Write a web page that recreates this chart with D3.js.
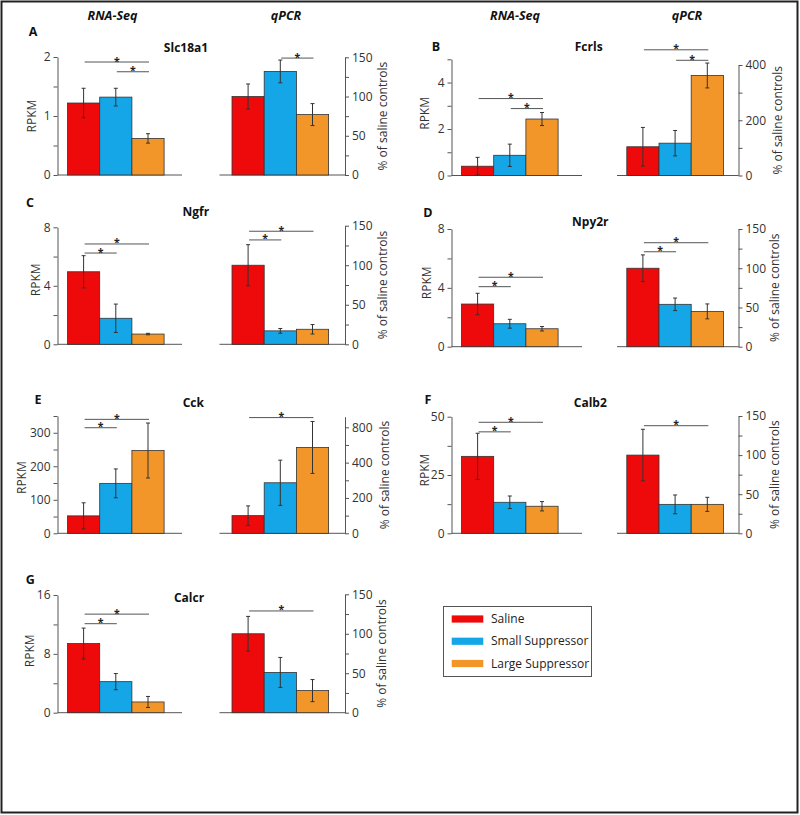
<!DOCTYPE html>
<html><head><meta charset="utf-8">
<script src="https://cdn.jsdelivr.net/npm/d3@7"></script>
<style>
body{margin:0;background:#fff;}
text{font-family:"Open Sans","Noto Sans",sans-serif;}
</style></head><body>
<svg id="c" width="800" height="815"></svg>
<script>
// ---------- DATA ----------
const groups = ["Saline", "Small Suppressor", "Large Suppressor"];
const colors = ["#ee0a0a", "#14a6e6", "#f3962a"];
const genes = ["Slc18a1", "Fcrls", "Ngfr", "Npy2r", "Cck", "Calb2", "Calcr"];
const panelLetters = ["A", "B", "C", "D", "E", "F", "G"];
const methodTitles = ["RNA-Seq", "qPCR"];

const rnaMean = [[1.22,1.32,0.62],[0.40,0.87,2.43],[4.96,1.78,0.70],[2.90,1.56,1.22],[52,149,247],[33,13.3,11.6],[9.4,4.22,1.46]];
const rnaErr  = [[0.25,0.15,0.08],[0.38,0.48,0.28],[1.10,0.97,0.05],[0.73,0.30,0.15],[39,43,82],[9.9,2.7,2.0],[2.1,1.1,0.75]];
const qpcrMean = [[100,132,77],[104,117,362],[100,17,19],[100,54,45],[100,286,486],[100,37,37],[100,51,28]];
const qpcrErr  = [[16,14.5,14],[70,46,45],[26,3,6],[17,8,9.5],[55,128,147],[33,12,9],[22,19,14]];

const rnaMax = [2, 5, 8, 8, 350, 50, 16];
const rnaMinorStep = [0.5, 1, 2, 2, 50, 12.5, 4];
const rnaTickValues = [[0,1,2],[0,2,4],[0,4,8],[0,4,8],[0,100,200,300],[0,25,50],[0,8,16]];
const rnaTickLabels = [["0","1","2"],["0","2","4"],["0","4","8"],["0","4","8"],["0","100","200","300"],["0","25","50"],["0","8","16"]];

const qpcrMax = [150, 400, 150, 150, 660, 150, 150];
const qpcrMinorStep = [25, 100, 25, 25, 100, 25, 25];
const qpcrTickValues = [[0,50,100,150],[0,200,400],[0,50,100,150],[0,50,100,150],[0,200,400,600],[0,50,100,150],[0,50,100,150]];
const qpcrTickLabels = [["0","50","100","150"],["0","200","400"],["0","50","100","150"],["0","50","100","150"],["0","200","400","800"],["0","50","100","150"],["0","50","100","150"]];

// significance brackets: [fromGroup, toGroup, level (data units)]
const rnaSig = [[[0,2,1.915],[1,2,1.75]], [[0,2,3.31],[1,2,2.88]], [[0,2,6.86],[0,1,6.24]], [[0,2,4.72],[0,1,4.08]], [[0,2,340],[0,1,315]], [[0,2,47.6],[0,1,43.5]], [[0,2,13.4],[0,1,12.1]]];
const qpcrSig = [[[1,2,149]], [[0,2,455],[1,2,417]], [[0,2,143],[0,1,132]], [[0,2,132.5],[0,1,121]], [[0,2,655]], [[0,2,137.6]], [[0,2,128.9]]];

const yLabelLeft = "RPKM";
const yLabelRight = "% of saline controls";

// ---------- LAYOUT ----------
const cols = [
  {rnaAxis:57.5, rnaBar0:67.5, rnaEnd:182, qStart:219.5, qBar0:232, qAxis:345, titleRna:112.5, titleQ:286},
  {rnaAxis:451.5, rnaBar0:461.5, rnaEnd:582, qStart:617, qBar0:626.8, qAxis:738.5, titleRna:515, titleQ:687}
];
const barW = 32.2;
const layout = [
  {col:0, y0:175,   rnaTop:57,    qTop:57.3,  letter:[33,36],    gene:[186,51.7],  rpkmX:32,    pctX:383, midShift:0},
  {col:1, y0:175.5, rnaTop:59.3,  qTop:65,    letter:[436,50.5], gene:[588.7,50.5],rpkmX:425,   pctX:778, midShift:-4},
  {col:0, y0:344.3, rnaTop:227.3, qTop:225.7, letter:[30,206.5], gene:[195.8,216], rpkmX:35.5,  pctX:383, midShift:-6},
  {col:1, y0:346.7, rnaTop:229,   qTop:229,   letter:[428,216.7],gene:[590.3,226], rpkmX:426.7, pctX:775, midShift:-5},
  {col:0, y0:533.3, rnaTop:416,   qTop:416.7, letter:[38,404.3], gene:[193.3,407], rpkmX:22,    pctX:385, midShift:3},
  {col:1, y0:533.3, rnaTop:416.7, qTop:416,   letter:[428,404.3],gene:[590.3,407], rpkmX:424.5, pctX:775, midShift:-5},
  {col:0, y0:712.7, rnaTop:595,   qTop:594.3, letter:[30.3,584], gene:[189,601.7], rpkmX:29.5,  pctX:381.7, midShift:-3}
];

const svg = d3.select("#c");
svg.append("rect").attr("x",1.5).attr("y",1.5).attr("width",796).attr("height",811)
  .attr("fill","none").attr("stroke","#222").attr("stroke-width",2);

// column titles
cols.forEach(c => {
  [[c.titleRna, methodTitles[0]], [c.titleQ, methodTitles[1]]].forEach(([x,t]) => {
    svg.append("text").attr("x",x).attr("y",20).attr("text-anchor","middle")
      .attr("font-size",12.5).attr("font-weight","bold").attr("font-style","italic").attr("fill","#111").text(t);
  });
});

function drawChart(o) {
  const g = svg.append("g");
  const y = d3.scaleLinear().domain([0, o.max]).range([o.y0, o.yTop]);
  const x = d3.scaleBand().domain(groups).range([o.bar0, o.bar0 + 3*barW]).padding(0);
  // baseline
  g.append("line").attr("x1",o.baseA).attr("x2",o.baseB).attr("y1",y(0)).attr("y2",y(0))
    .attr("stroke","#555").attr("stroke-width",1);
  // bars
  g.selectAll("rect.bar").data(o.mean).join("rect").attr("class","bar")
    .attr("x",(d,i)=>x(groups[i])).attr("width",x.bandwidth())
    .attr("y",d=>y(d)).attr("height",d=>y(0)-y(d))
    .attr("fill",(d,i)=>colors[i]).attr("stroke","#333").attr("stroke-width",0.8);
  // error bars
  o.mean.forEach((m,i) => {
    const cx = x(groups[i]) + x.bandwidth()/2;
    const lo = y(Math.max(0, m - o.err[i])), hi = y(m + o.err[i]);
    g.append("line").attr("x1",cx).attr("x2",cx).attr("y1",lo).attr("y2",hi).attr("stroke","#333").attr("stroke-width",1);
    [lo,hi].forEach(v => g.append("line").attr("x1",cx-2).attr("x2",cx+2).attr("y1",v).attr("y2",v).attr("stroke","#333").attr("stroke-width",1));
  });
  // axis
  const ticks = d3.range(0, o.max + 1e-9, o.minor);
  const ax = (o.side === "left" ? d3.axisLeft(y) : d3.axisRight(y))
    .tickValues(ticks).tickSize(4).tickSizeOuter(0).tickPadding(3)
    .tickFormat(d => { const k = o.tv.findIndex(v => Math.abs(v - d) < 1e-9); return k >= 0 ? o.tl[k] : ""; });
  const ag = g.append("g").attr("transform",`translate(${o.axisX},0)`).call(ax);
  ag.select(".domain").attr("stroke","#555");
  ag.selectAll(".tick line").attr("stroke","#555");
  ag.selectAll(".tick text").attr("font-size",12).attr("fill","#333").attr("font-family",'"Open Sans",sans-serif');
  // axis label
  const cy = (o.y0 + o.yTop)/2 + o.midShift;
  g.append("text").attr("transform",`translate(${o.labelX},${cy}) rotate(-90)`).attr("dy","0.35em")
    .attr("text-anchor","middle").attr("font-size",12).attr("fill","#333").text(o.label);
  // significance
  o.sig.forEach(([a,b,lev]) => {
    const x1 = x(groups[a]) + x.bandwidth()/2 + 1, x2 = x(groups[b]) + x.bandwidth()/2 + 1;
    const yy = y(lev);
    g.append("line").attr("x1",x1).attr("x2",x2).attr("y1",yy).attr("y2",yy).attr("stroke","#555").attr("stroke-width",1);
    g.append("text").attr("x",(x1+x2)/2).attr("y",yy+2.5).attr("text-anchor","middle")
      .attr("font-size",10.5).attr("font-weight","bold").attr("fill","#222").text("*");
  });
}

genes.forEach((gene,i) => {
  const L = layout[i], C = cols[L.col];
  svg.append("text").attr("x",L.letter[0]).attr("y",L.letter[1]).attr("text-anchor","middle")
    .attr("font-size",12.5).attr("font-weight","bold").attr("fill","#111").text(panelLetters[i]);
  svg.append("text").attr("x",L.gene[0]).attr("y",L.gene[1]).attr("text-anchor","middle")
    .attr("font-size",12).attr("font-weight","bold").attr("fill","#111").text(gene);
  drawChart({mean:rnaMean[i], err:rnaErr[i], sig:rnaSig[i], max:rnaMax[i], minor:rnaMinorStep[i],
    tv:rnaTickValues[i], tl:rnaTickLabels[i], y0:L.y0, yTop:L.rnaTop, axisX:C.rnaAxis, bar0:C.rnaBar0,
    baseA:C.rnaAxis, baseB:C.rnaEnd, side:"left", label:yLabelLeft, labelX:L.rpkmX, midShift:L.midShift});
  drawChart({mean:qpcrMean[i], err:qpcrErr[i], sig:qpcrSig[i], max:qpcrMax[i], minor:qpcrMinorStep[i],
    tv:qpcrTickValues[i], tl:qpcrTickLabels[i], y0:L.y0, yTop:L.qTop, axisX:C.qAxis, bar0:C.qBar0,
    baseA:C.qStart, baseB:C.qAxis, side:"right", label:yLabelRight, labelX:L.pctX, midShift:0});
});

// legend
const lg = svg.append("g");
lg.append("rect").attr("x",443.5).attr("y",606.5).attr("width",148).attr("height",70)
  .attr("fill","#fff").attr("stroke","#555").attr("stroke-width",1);
const ly = d3.scalePoint().domain(groups).range([619, 663.5]);
groups.forEach((gname,i) => {
  lg.append("rect").attr("x",451.7).attr("y",ly(gname)-3.6).attr("width",31.6).attr("height",7.2).attr("fill",colors[i]);
  lg.append("text").attr("x",491).attr("y",ly(gname)).attr("dy","0.35em").attr("font-size",12)
    .attr("fill","#222").text(gname);
});
</script>
</body></html>
